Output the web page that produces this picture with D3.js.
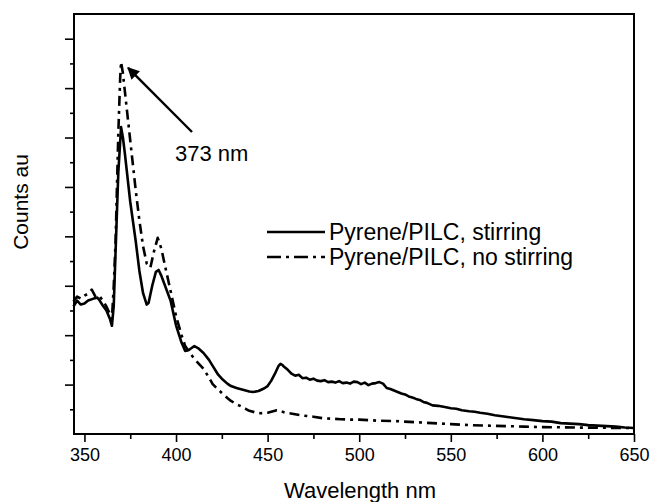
<!DOCTYPE html>
<html>
<head>
<meta charset="utf-8">
<script src="https://cdn.jsdelivr.net/npm/d3@7"></script>
<style>
  body { margin: 0; background: #fff; }
  svg { font-family: Arial, "Liberation Sans", sans-serif; }
</style>
</head>
<body>
<div id="viz"></div>
<script>
const width = 652;
const height = 502;
const margin = {top: 14, right: 18, bottom: 68, left: 74};

// Data
const wlStirring = [344, 346, 348, 350, 352, 355, 357, 358, 360, 362, 364, 365, 366, 367, 368.5, 370, 371, 372, 375, 378,
  380, 382, 384, 385, 387, 389, 390.5, 392, 394, 397, 400, 403, 405, 407, 410, 412, 415, 418, 420, 423,
  425, 428, 430, 433, 435, 437, 440, 442, 445, 448, 450, 452, 454, 456, 457, 458, 459, 461, 463, 465,
  467, 469, 471, 473, 475, 477, 479, 481, 483, 485, 487, 489, 491, 493, 495, 497, 499, 501, 503, 505,
  507, 509, 511, 513, 515, 517, 519, 521, 523, 525, 527, 529, 531, 533, 535, 537, 540, 543, 546, 550,
  553, 556, 560, 563, 566, 570, 574, 578, 582, 586, 590, 595, 600, 605, 610, 615, 620, 625, 630, 635,
  640, 645, 650];
const countsStirring = [2.58, 2.70, 2.62, 2.64, 2.70, 2.74, 2.76, 2.72, 2.60, 2.50, 2.32, 2.19, 2.60, 3.70, 5.30, 6.21, 6.00, 5.70, 4.70, 3.90,
  3.30, 2.85, 2.62, 2.65, 3.00, 3.28, 3.32, 3.20, 3.00, 2.70, 2.20, 1.85, 1.68, 1.70, 1.78, 1.74, 1.64, 1.50, 1.38, 1.20,
  1.12, 1.02, 0.97, 0.93, 0.91, 0.89, 0.86, 0.85, 0.87, 0.92, 0.97, 1.08, 1.22, 1.38, 1.42, 1.40, 1.36, 1.30, 1.22, 1.18,
  1.20, 1.13, 1.14, 1.10, 1.12, 1.08, 1.07, 1.09, 1.05, 1.06, 1.04, 1.07, 1.03, 1.04, 1.02, 1.06, 1.05, 1.01, 1.04, 0.99,
  1.02, 1.03, 1.05, 1.02, 0.93, 0.91, 0.88, 0.85, 0.82, 0.80, 0.76, 0.74, 0.71, 0.69, 0.65, 0.63, 0.58, 0.57, 0.55, 0.52,
  0.51, 0.48, 0.46, 0.45, 0.43, 0.41, 0.38, 0.36, 0.34, 0.32, 0.30, 0.28, 0.26, 0.25, 0.22, 0.21, 0.20, 0.18, 0.17, 0.16,
  0.15, 0.13, 0.12];

const wlNoStirring = [344, 346, 348, 350, 352, 354, 356, 358, 360, 362, 364, 365, 366, 367, 368.5, 369.5, 370, 371, 372, 375,
  378, 380, 382, 384, 386, 388, 390, 392, 394, 397, 400, 403, 405, 408, 410, 413, 415, 418, 420, 423,
  425, 428, 430, 433, 435, 438, 440, 443, 446, 450, 453, 455, 457, 460, 465, 470, 475, 480, 485, 490,
  495, 500, 510, 520, 530, 540, 550, 560, 570, 580, 590, 600, 610, 620, 635, 650];
const countsNoStirring = [2.68, 2.78, 2.74, 2.80, 2.84, 2.92, 2.78, 2.80, 2.70, 2.58, 2.42, 2.33, 3.00, 3.90, 6.10, 7.20, 7.53, 7.30, 6.96, 5.94,
  4.93, 4.32, 3.80, 3.45, 3.37, 3.70, 3.97, 3.75, 3.40, 2.90, 2.39, 2.00, 1.78, 1.62, 1.52, 1.40, 1.32, 1.14, 1.01, 0.90,
  0.83, 0.73, 0.67, 0.60, 0.57, 0.51, 0.47, 0.44, 0.42, 0.43, 0.46, 0.48, 0.46, 0.43, 0.40, 0.37, 0.35, 0.32, 0.31, 0.30,
  0.29, 0.29, 0.27, 0.26, 0.24, 0.22, 0.20, 0.18, 0.17, 0.16, 0.15, 0.14, 0.135, 0.13, 0.125, 0.12];

const xTicks = [350, 400, 450, 500, 550, 600, 650];
const seriesNames = ['Pyrene/PILC, stirring', 'Pyrene/PILC, no stirring'];
const peakLabel = '373 nm';
const peakWl = 370;
const peakCount = 7.53;

const dashDot = '10,5,3,5';

const svg = d3.select('#viz')
  .append('svg')
    .attr('width', width)
    .attr('height', height);

const xScale = d3.scaleLinear()
  .domain([344.3, 650])
  .range([margin.left, width - margin.right]);

const yScale = d3.scaleLinear()
  .domain([0, 8.5])
  .range([height - margin.bottom, margin.top]);

// x axis: majors with labels, minors without
const xAxis = svg.append('g')
  .attr('transform', `translate(0, ${height - margin.bottom})`)
  .call(d3.axisBottom(xScale).tickValues(xTicks).tickSize(8).tickSizeOuter(0).tickPadding(6));
xAxis.select('.domain').remove();
xAxis.selectAll('text').attr('font-size', 18).attr('font-family', 'Arial, "Liberation Sans", sans-serif').attr('fill', '#000');
xAxis.selectAll('line').attr('stroke-width', 1.6);

svg.append('g')
  .attr('transform', `translate(0, ${height - margin.bottom})`)
  .call(d3.axisBottom(xScale).tickValues(d3.range(375, 650, 50)).tickSize(5).tickFormat(''))
  .call(g => g.select('.domain').remove())
  .selectAll('line').attr('stroke-width', 1.6);

// y axis: no labels, major + minor ticks
svg.append('g')
  .attr('transform', `translate(${margin.left}, 0)`)
  .call(d3.axisLeft(yScale).tickValues(d3.range(1, 9)).tickSize(9).tickFormat(''))
  .call(g => g.select('.domain').remove())
  .selectAll('line').attr('stroke-width', 1.6);

svg.append('g')
  .attr('transform', `translate(${margin.left}, 0)`)
  .call(d3.axisLeft(yScale).tickValues(d3.range(0.5, 8.5, 1)).tickSize(4).tickFormat(''))
  .call(g => g.select('.domain').remove())
  .selectAll('line').attr('stroke-width', 1.6);

// frame
svg.append('rect')
  .attr('x', margin.left)
  .attr('y', margin.top)
  .attr('width', width - margin.left - margin.right)
  .attr('height', height - margin.top - margin.bottom)
  .attr('fill', 'none')
  .attr('stroke', '#000')
  .attr('stroke-width', 2);

const line = d3.line()
  .x(d => xScale(d[0]))
  .y(d => yScale(d[1]));

svg.append('path')
  .attr('d', line(d3.zip(wlNoStirring, countsNoStirring)))
  .attr('fill', 'none')
  .attr('stroke', '#000')
  .attr('stroke-width', 2.6)
  .attr('stroke-dasharray', dashDot)
  .attr('stroke-linejoin', 'round');

svg.append('path')
  .attr('d', line(d3.zip(wlStirring, countsStirring)))
  .attr('fill', 'none')
  .attr('stroke', '#000')
  .attr('stroke-width', 2.6)
  .attr('stroke-linejoin', 'round');

// arrow to the peak
const defs = svg.append('defs');
defs.append('marker')
  .attr('id', 'head')
  .attr('viewBox', '0 0 10 10')
  .attr('refX', 9)
  .attr('refY', 5)
  .attr('markerWidth', 5)
  .attr('markerHeight', 5)
  .attr('orient', 'auto')
  .append('path')
    .attr('d', 'M0,0L10,5L0,10Z')
    .attr('fill', '#000');

svg.append('line')
  .attr('x1', 192)
  .attr('y1', 132)
  .attr('x2', xScale(peakWl) + 7)
  .attr('y2', yScale(peakCount) + 6)
  .attr('stroke', '#000')
  .attr('stroke-width', 2.4)
  .attr('marker-end', 'url(#head)');

svg.append('text')
  .attr('x', 175)
  .attr('y', 161)
  .attr('font-size', 22)
  .text(peakLabel);

// legend
const legendX = 267;
const legendY = [232, 257];
seriesNames.forEach((name, i) => {
  svg.append('line')
    .attr('x1', legendX)
    .attr('x2', legendX + 58)
    .attr('y1', legendY[i])
    .attr('y2', legendY[i])
    .attr('stroke', '#000')
    .attr('stroke-width', 2.6)
    .attr('stroke-dasharray', i === 0 ? null : '14,5,3,5');
  svg.append('text')
    .attr('x', legendX + 62)
    .attr('y', legendY[i] + 8)
    .attr('font-size', 23)
    .text(name);
});

// axis titles
svg.append('text')
  .attr('x', 360)
  .attr('y', 498)
  .attr('text-anchor', 'middle')
  .attr('font-size', 22)
  .text('Wavelength nm');

svg.append('text')
  .attr('transform', 'translate(28, 202) rotate(-90)')
  .attr('text-anchor', 'middle')
  .attr('font-size', 21)
  .text('Counts au');
</script>
</body>
</html>
